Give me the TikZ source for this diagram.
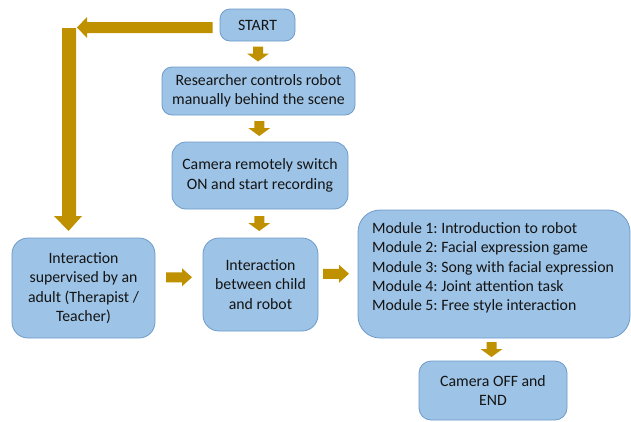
\documentclass[tikz,border=0pt]{standalone}
\usepackage{fontspec}
\setmainfont{Carlito}
\usetikzlibrary{calc}
\definecolor{boxfill}{HTML}{9DC3E6}
\definecolor{boxdraw}{HTML}{6E9BC9}
\definecolor{arrcol}{HTML}{BF9000}
\frenchspacing
\begin{document}
\begin{tikzpicture}[x=1bp,y=-1bp,
  box/.style={draw=boxdraw,fill=boxfill,line width=0.8bp,rounded corners=10bp,inner sep=0pt,
    font=\fontsize{15.8bp}{19.3bp}\selectfont\frenchspacing,align=center,text=black!92},
  darr/.pic={\fill[arrcol] (-5,-7.5) -- (5,-7.5) -- (5,-0.5) -- (11,-0.5) -- (0,7.5) -- (-11,-0.5) -- (-5,-0.5) -- cycle;},
  rarr/.pic={\fill[arrcol] (-13,-5) -- (3,-5) -- (3,-9) -- (13,0) -- (3,9) -- (3,5) -- (-13,5) -- cycle;}]
\useasboundingbox (0,0) rectangle (631,421);
% boxes
\node[box,minimum width=75bp,minimum height=32bp] (start) at (257.5,25) {START};
\node[box,minimum width=193bp,minimum height=48bp] (res) at (258.5,91) {Researcher controls robot\\manually behind the scene};
\node[box,minimum width=176bp,minimum height=67bp,rounded corners=14bp] (cam) at (260,175.5) {Camera remotely switch\\ON and start recording};
\node[box,minimum width=143bp,minimum height=100bp,rounded corners=16bp] (sup) at (83.5,288) {Interaction\\supervised by an\\adult (Therapist /\\Teacher)};
\node[box,minimum width=115bp,minimum height=93bp,rounded corners=16bp] (btw) at (260.5,284.5) {Interaction\\between child\\and robot};
\node[box,minimum width=272bp,minimum height=128bp,rounded corners=22bp] (mod) at (494,274) {};
\node[box,draw=none,fill=none,align=left,anchor=north west] (modtext) at ($(mod.north west)+(14,12.5)$) {Module 1: Introduction to robot\\Module 2: Facial expression game\\Module 3: Song with facial expression\\Module 4: Joint attention task\\Module 5: Free style interaction};
\node[box,minimum width=148bp,minimum height=59bp,rounded corners=12bp] (end) at (493,390.5) {Camera OFF and\\END};
% small block arrows
\pic at ($(start.south)!0.5!(res.north)$) {darr};
\pic at ($(res.south)!0.5!(cam.north)$) {darr};
\pic at ($(cam.south)!0.5!(btw.north)+(-1,0)$) {darr};
\pic at ($(mod.south)!0.5!(end.north)+(-2,0)$) {darr};
\pic at ($(sup.east)!0.5!(btw.west)+(0,-9)$) {rarr};
\pic at ($(btw.east)!0.5!(mod.west)+(-2,-5.5)$) {rarr};
% big L arrow
\coordinate (lstart) at ($(start.west)+(-7,2.5)$);
\fill[arrcol] (lstart) ++(0,-5.5) -- (87,22) -- (87,17) -- (77,27.5) -- (87,38) -- (87,33) -- ($(lstart)+(0,5.5)$) -- cycle;
\fill[arrcol] (62,28) -- (76,28) -- (76,216) -- (82,216) -- (68.5,231) -- (54,216) -- (62,216) -- cycle;
\end{tikzpicture}
\end{document}
